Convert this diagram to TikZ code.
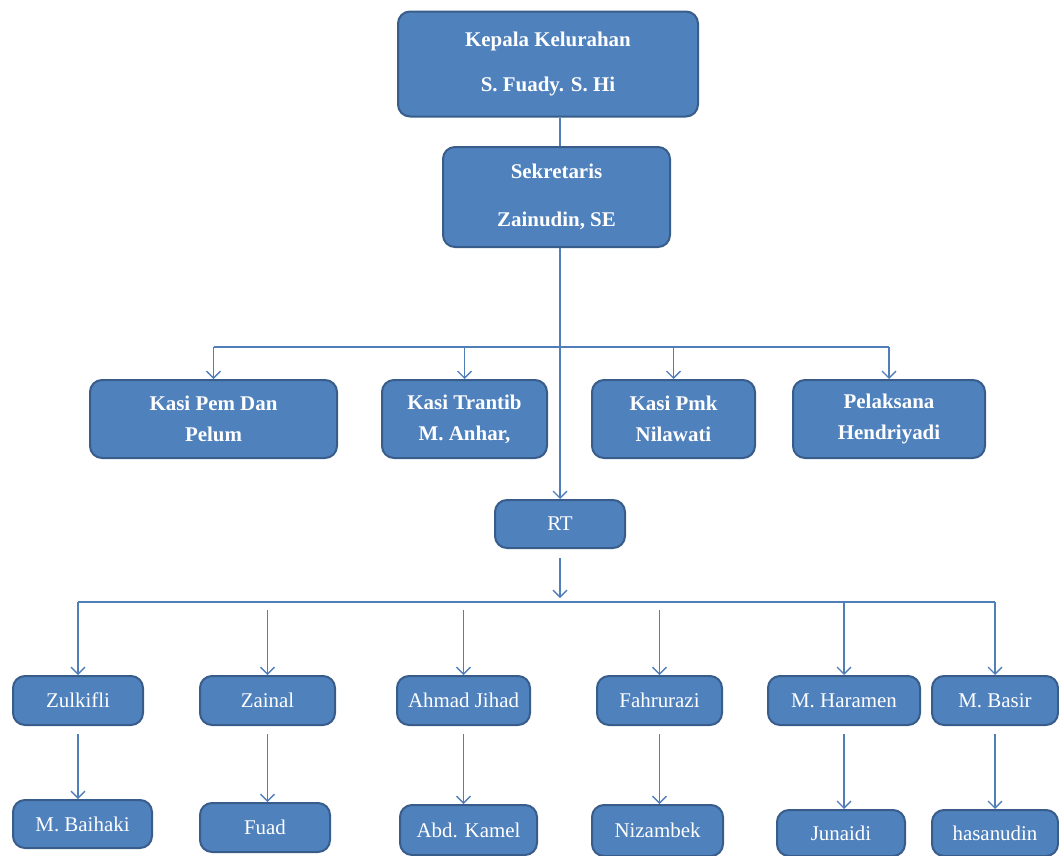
\documentclass[tikz,border=0pt]{standalone}
\usepackage{fontspec}
\setmainfont{Liberation Serif}
\usetikzlibrary{arrows.meta,positioning}

\definecolor{boxfill}{RGB}{79,129,189}
\definecolor{boxborder}{RGB}{56,93,138}
\definecolor{linecol}{RGB}{80,126,185}

\tikzset{
  box/.style={draw=boxborder,fill=boxfill,rounded corners=12bp,line width=2bp,
    text=white,align=center,inner sep=0pt,font=\fontsize{21}{31}\selectfont},
  bbox/.style={box,font=\fontsize{21}{31}\selectfont\bfseries},
  conn/.style={draw=linecol,line width=1.3bp},
  >={Straight Barb[length=7bp,width=14bp,line width=1.3bp]}
}

\begin{document}
\begin{tikzpicture}
\useasboundingbox (0,0) rectangle (1059bp,-856bp);

\node (kepala) at (548bp,-64bp)[bbox,minimum width=300bp,minimum height=105bp] {Kepala Kelurahan\\[14bp]S. Fuady. S. Hi};
\node (sekretaris) at (556.5bp,-197bp)[bbox,minimum width=227bp,minimum height=100bp] {Sekretaris\\[17bp]Zainudin, SE};

\node (pem) at (213.5bp,-419bp)[bbox,minimum width=247bp,minimum height=78bp] {Kasi Pem Dan\\Pelum};
\node (trantib) at (464.5bp,-419bp)[bbox,minimum width=165bp,minimum height=78bp] {Kasi Trantib\\M. Anhar,};
\node (pmk) at (673.5bp,-419bp)[bbox,minimum width=163bp,minimum height=78bp] {Kasi Pmk\\Nilawati};
\node (pelaksana) at (889bp,-419bp)[bbox,minimum width=192bp,minimum height=78bp] {Pelaksana\\Hendriyadi};

\node (rt) at (560bp,-524bp)[box,minimum width=130bp,minimum height=48bp] {RT};

\node (zulkifli) at (78bp,-700.5bp)[box,minimum width=130bp,minimum height=49bp] {Zulkifli};
\node (zainal) at (267.5bp,-700.5bp)[box,minimum width=135bp,minimum height=49bp] {Zainal};
\node (ahmad) at (463.5bp,-700.5bp)[box,minimum width=133bp,minimum height=49bp] {Ahmad Jihad};
\node (fahrurazi) at (659.5bp,-700.5bp)[box,minimum width=125bp,minimum height=49bp] {Fahrurazi};
\node (haramen) at (844bp,-700.5bp)[box,minimum width=152bp,minimum height=49bp] {M. Haramen};
\node (basir) at (995bp,-700.5bp)[box,minimum width=126bp,minimum height=49bp] {M. Basir};

\node (baihaki) at (82.5bp,-824bp)[box,minimum width=139bp,minimum height=48bp] {M. Baihaki};
\node (fuad) at (265bp,-827.5bp)[box,minimum width=130bp,minimum height=49bp] {Fuad};
\node (kamel) at (468.5bp,-830bp)[box,minimum width=137bp,minimum height=50bp] {Abd. Kamel};
\node (nizambek) at (657.5bp,-830.5bp)[box,minimum width=131bp,minimum height=51bp] {Nizambek};
\node (junaidi) at (841bp,-833bp)[box,minimum width=128bp,minimum height=46bp] {Junaidi};
\node (hasanudin) at (995bp,-833bp)[box,minimum width=126bp,minimum height=46bp] {hasanudin};

% bus lines
\coordinate (bus1) at (0,-347bp);
\coordinate (bus2) at (0,-602bp);

\draw [conn] (kepala.south -| rt.north) -- (sekretaris.north -| rt.north);
\draw [conn,->] (sekretaris.south -| rt.north) -- (rt.north);

\draw [conn] (pem.north |- bus1) -- (pelaksana.north |- bus1);
\foreach \n in {pem,trantib,pmk,pelaksana}
  \draw [conn,->] (\n.north |- bus1) -- (\n.north);

\draw [conn,->,shorten <=9bp,shorten >=4bp] (rt.south) -- (rt.south |- bus2);

\draw [conn] (zulkifli.north |- bus2) -- (basir.north |- bus2);
\foreach \n in {zulkifli,haramen,basir}
  \draw [conn,->] (\n.north |- bus2) -- (\n.north);
\foreach \n in {zainal,ahmad,fahrurazi}
  \draw [conn,->,shorten <=8bp] (\n.north |- bus2) -- (\n.north);

\foreach \a/\b in {zulkifli/baihaki,zainal/fuad,ahmad/kamel,fahrurazi/nizambek,haramen/junaidi,basir/hasanudin}
  \draw [conn,->,shorten <=8bp] (\a.south) -- (\a.south |- \b.north);

\end{tikzpicture}
\end{document}
